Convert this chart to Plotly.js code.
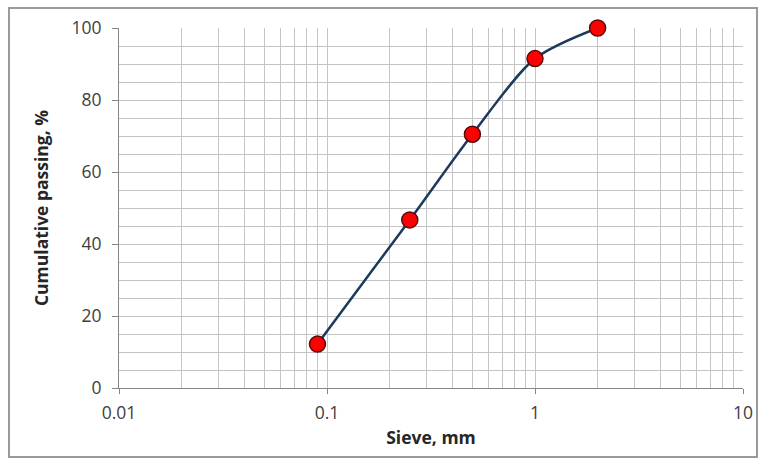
<!DOCTYPE html>
<html><head><meta charset="utf-8">
<script src="https://cdn.plot.ly/plotly-3.0.1.min.js"></script>
<style>html,body{margin:0;padding:0;background:#fff;}#chart{width:767px;height:466px;}</style>
</head><body><div id="chart"></div>
<script>
const sieveSizes = [0.09, 0.25, 0.5, 1, 2];
const cumulativePassing = [12.2, 46.7, 70.5, 91.5, 100];
const xTickVals = [0.01, 0.1, 1, 10];
const xTickText = ['0.01', '0.1', '1', '10'];
const yTickVals = [0, 20, 40, 60, 80, 100];

const trace = {
  x: sieveSizes, y: cumulativePassing, type: 'scatter', mode: 'lines+markers',
  cliponaxis: false,
  line: {color: '#1b3a5c', width: 2.5, shape: 'spline', smoothing: 0.8},
  marker: {color: '#ff0000', size: 16, line: {color: '#5a0a0a', width: 1.5}},
  hoverinfo: 'skip', showlegend: false
};
const fam = 'Open Sans, Liberation Sans, sans-serif';
const tickFont = {family: fam, size: 17.5, color: '#404040'};
const titleFont = {family: fam, size: 17.5, color: '#262626'};
const layout = {
  width: 767, height: 466,
  margin: {l: 119, r: 24, t: 28, b: 78},
  paper_bgcolor: '#fff', plot_bgcolor: '#fff',
  xaxis: {
    type: 'log', range: [-2, 1], tickvals: xTickVals, ticktext: xTickText,
    showgrid: true, gridcolor: '#c4c4c4', gridwidth: 1,
    minor: {dtick: 'D1', showgrid: true, gridcolor: '#c4c4c4', gridwidth: 1, ticks: ''},
    showline: true, linecolor: '#868686', linewidth: 1, mirror: false,
    ticks: 'outside', ticklen: 5, tickcolor: '#868686', ticklabelstandoff: 4,
    tickfont: tickFont, zeroline: false,
    title: {text: '<b>Sieve, mm</b>', font: titleFont, standoff: 8}
  },
  yaxis: {
    range: [0, 100], tickvals: yTickVals,
    showgrid: true, gridcolor: '#c4c4c4', gridwidth: 1,
    minor: {dtick: 5, showgrid: true, gridcolor: '#c4c4c4', gridwidth: 1, ticks: ''},
    showline: true, linecolor: '#868686', linewidth: 1,
    ticks: 'outside', ticklen: 6, tickcolor: '#868686', ticklabelstandoff: 7,
    tickfont: tickFont, zeroline: false,
    title: {text: '<b>Cumulative passing, %</b>', font: titleFont, standoff: 18}
  },
  shapes: [{
    type: 'rect', xref: 'paper', yref: 'paper',
    x0: (9 - 119) / 624, x1: (757 - 119) / 624,
    y0: (388 - 457) / 360, y1: (388 - 8) / 360,
    line: {color: '#9a9a9a', width: 2}, fillcolor: 'rgba(0,0,0,0)', layer: 'below'
  }]
};
Plotly.newPlot('chart', [trace], layout, {staticPlot: true, displayModeBar: false});
</script></body></html>
